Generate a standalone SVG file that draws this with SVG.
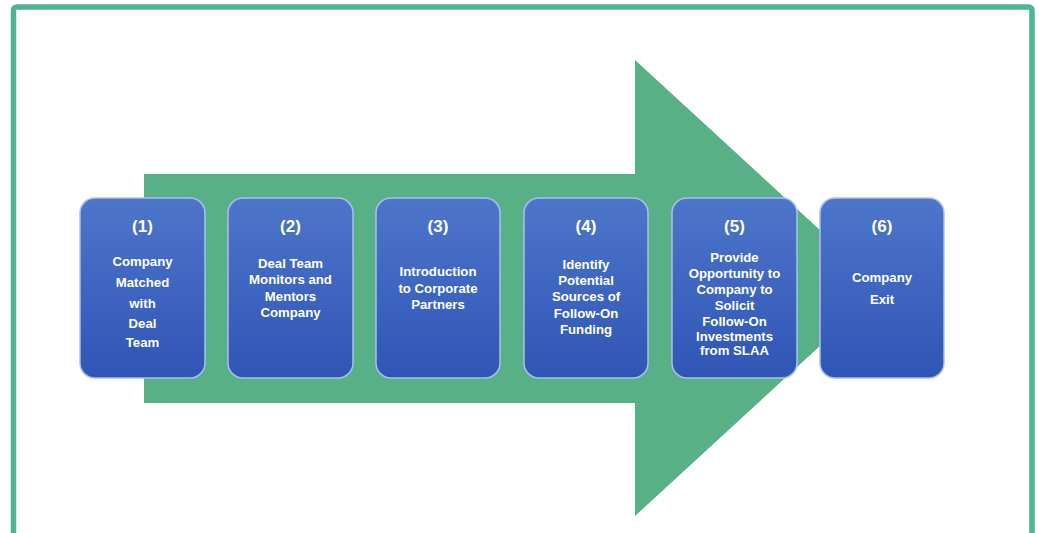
<svg xmlns="http://www.w3.org/2000/svg" width="1039" height="533" viewBox="0 0 1039 533">
<defs>
<linearGradient id="bg" x1="0" y1="0" x2="0" y2="1">
<stop offset="0" stop-color="#4D76CA"/>
<stop offset="1" stop-color="#2F55B6"/>
</linearGradient>
<style>
.box{fill:url(#bg);stroke:#A9C0EC;stroke-width:1.5}
.t{font-family:"Liberation Sans",Arial,sans-serif;font-weight:bold;fill:#FFFFFF;text-anchor:middle;font-size:13.2px}
.n{font-size:17px}
</style>
</defs>
<rect x="0" y="0" width="1039" height="533" fill="#FFFFFF"/>
<rect x="13.5" y="7" width="1018.5" height="540" rx="3" fill="none" stroke="#4DB592" stroke-width="5.5"/>
<g id="connectors">
<polygon points="144,174 635,174 635,60 883,288 635,516 635,403 144,403" fill="#58B086"/>
</g>
<g id="node1">
<rect class="box" x="80" y="198" width="125" height="180" rx="15"/>
<text class="t n" x="142.5" y="232">(1)</text>
<text class="t" x="142.5" y="266">Company</text>
<text class="t" x="142.5" y="287">Matched</text>
<text class="t" x="142.5" y="308">with</text>
<text class="t" x="142.5" y="328">Deal</text>
<text class="t" x="142.5" y="347">Team</text>
</g>
<g id="node2">
<rect class="box" x="228" y="198" width="125" height="180" rx="15"/>
<text class="t n" x="290.5" y="232">(2)</text>
<text class="t" x="290.5" y="268">Deal Team</text>
<text class="t" x="290.5" y="284">Monitors and</text>
<text class="t" x="290.5" y="301">Mentors</text>
<text class="t" x="290.5" y="317">Company</text>
</g>
<g id="node3">
<rect class="box" x="376" y="198" width="124" height="180" rx="15"/>
<text class="t n" x="438" y="232">(3)</text>
<text class="t" x="438" y="276">Introduction</text>
<text class="t" x="438" y="293">to Corporate</text>
<text class="t" x="438" y="309">Partners</text>
</g>
<g id="node4">
<rect class="box" x="524" y="198" width="124" height="180" rx="15"/>
<text class="t n" x="586" y="232">(4)</text>
<text class="t" x="586" y="269">Identify</text>
<text class="t" x="586" y="285">Potential</text>
<text class="t" x="586" y="301">Sources of</text>
<text class="t" x="586" y="318">Follow-On</text>
<text class="t" x="586" y="334">Funding</text>
</g>
<g id="node5">
<rect class="box" x="672" y="198" width="125" height="180" rx="15"/>
<text class="t n" x="734.5" y="232">(5)</text>
<text class="t" x="734.5" y="262">Provide</text>
<text class="t" x="734.5" y="278">Opportunity to</text>
<text class="t" x="734.5" y="294">Company to</text>
<text class="t" x="734.5" y="310">Solicit</text>
<text class="t" x="734.5" y="326">Follow-On</text>
<text class="t" x="734.5" y="341">Investments</text>
<text class="t" x="734.5" y="355">from SLAA</text>
</g>
<g id="node6">
<rect class="box" x="820" y="198" width="124" height="180" rx="15"/>
<text class="t n" x="882" y="232">(6)</text>
<text class="t" x="882" y="282">Company</text>
<text class="t" x="882" y="304">Exit</text>
</g>
</svg>
